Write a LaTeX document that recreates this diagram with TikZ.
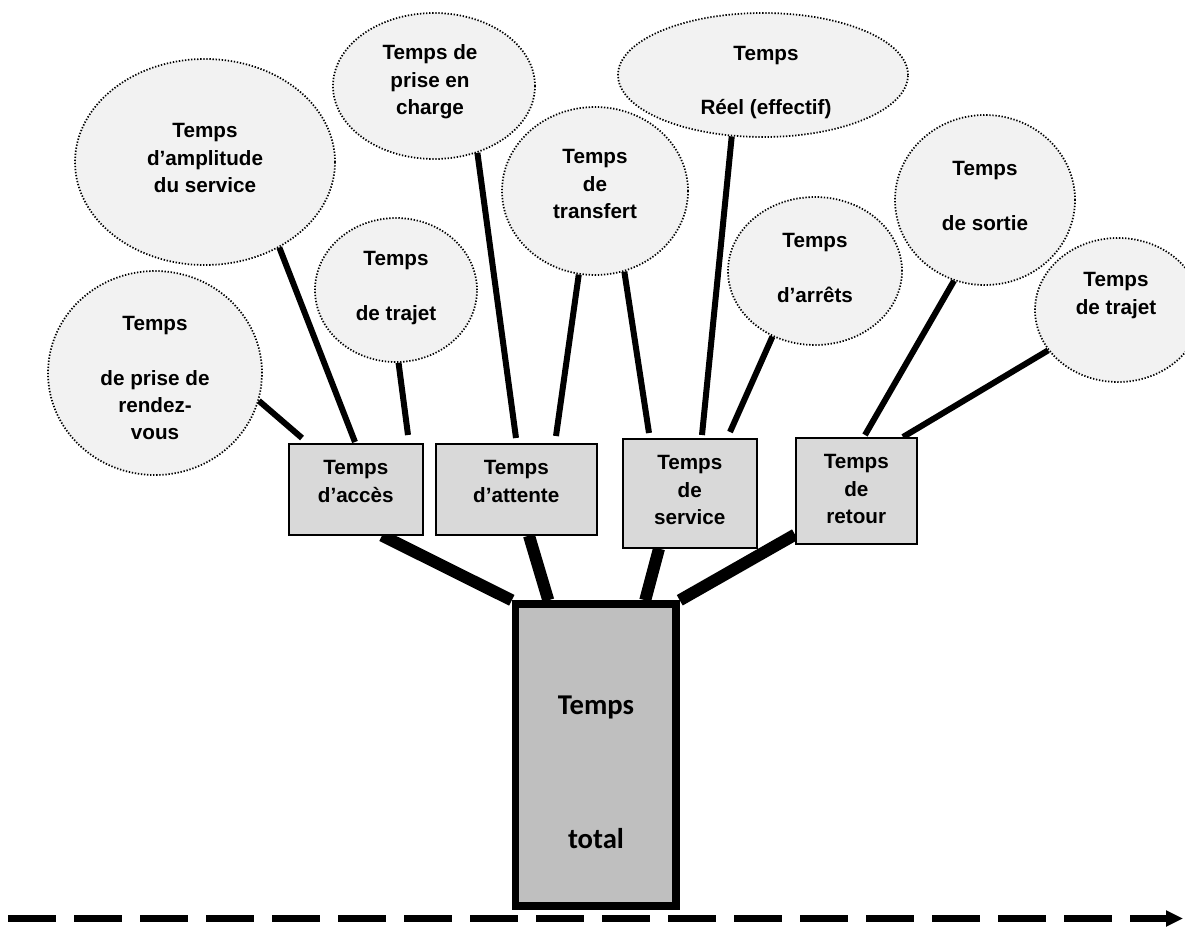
\documentclass[tikz,border=0pt]{standalone}
\usepackage{fontspec}
\setmainfont{Liberation Sans}
\newfontfamily\trunkfont{Carlito}
\usetikzlibrary{shapes.geometric,arrows.meta,backgrounds}
\definecolor{bubblefill}{HTML}{F2F2F2}
\definecolor{boxfill}{HTML}{D9D9D9}
\definecolor{trunkfill}{HTML}{BFBFBF}
\begin{document}
\begin{tikzpicture}[x=0.75pt,y=-0.75pt,
  bubble/.style={ellipse, draw=black, fill=bubblefill, line width=1.3pt,
    dash pattern=on 1pt off 1.3pt, inner sep=0pt},
  bubbletext/.style={inner sep=0pt, align=center,
    font=\bfseries\fontsize{15.5}{20.6}\selectfont},
  timebox/.style={rectangle, draw=black, fill=boxfill, line width=1.2pt,
    anchor=north west, inner xsep=0pt, inner ysep=12.1pt,
    align=center, font=\bfseries\fontsize{15.5}{20.6}\selectfont},
  twoline/.style={text height=31.7pt},
  threeline/.style={text height=52.3pt},
  trunkbox/.style={rectangle, draw=black, fill=trunkfill, line width=5.6pt,
    minimum width=120.4pt, minimum height=226.5pt, inner sep=0pt},
  trunktext/.style={anchor=base, inner sep=0pt,
    font=\trunkfont\bfseries\fontsize{21.5}{26}\selectfont},
  twig/.style={line width=4.5pt},
  limb/.style={line width=9pt},
  timeline/.style={line width=5.2pt, dash pattern=on 36pt off 13.5pt,
    -{Triangle[length=12.75pt,width=11.5pt]}}
]
\useasboundingbox (0,0) rectangle (1185,928);

% leaves: the detailed times (outline, then its text)
\node[bubble, minimum width=160.5pt, minimum height=153pt] (e1) at (155,373) {};
\node[bubbletext] (e1t) at (155,378) {Temps\\[20.6pt]de prise de\\rendez-\\vous};
\node[bubble, minimum width=195pt, minimum height=154.5pt] (e2) at (205,162) {};
\node[bubbletext] (e2t) at (205,158) {Temps\\d’amplitude\\du service};
\node[bubble, minimum width=121.5pt, minimum height=108pt] (e3) at (396,290) {};
\node[bubbletext] (e3t) at (396,288) {Temps\\[20.6pt]de trajet};
\node[bubble, minimum width=151.5pt, minimum height=109.5pt] (e4) at (434,86) {};
\node[bubbletext] (e4t) at (430,82) {Temps de\\prise en\\charge};
\node[bubble, minimum width=139.5pt, minimum height=126pt] (e5) at (595,191) {};
\node[bubbletext] (e5t) at (595,184) {Temps\\de\\transfert};
\node[bubble, minimum width=217.5pt, minimum height=93pt] (e6) at (763,75) {};
\node[bubbletext] (e6t) at (766,82.5) {Temps\\[20.6pt]Réel (effectif)};
\node[bubble, minimum width=130.5pt, minimum height=111pt] (e7) at (815,271) {};
\node[bubbletext] (e7t) at (815,268) {Temps\\[20.6pt]d’arrêts};
\node[bubble, minimum width=135pt, minimum height=127.5pt] (e8) at (985,200) {};
\node[bubbletext] (e8t) at (985,196) {Temps\\[20.6pt]de sortie};
\node[bubble, minimum width=124.5pt, minimum height=108pt] (e9) at (1118,310) {};
\node[bubbletext] (e9t) at (1116,295.5) {Temps\\de trajet};

% branches: the four main times
\node[timebox, twoline, minimum width=100.5pt, text depth=12.35pt] (acc) at (288,443)
  {Temps\\d’accès};
\node[timebox, twoline, minimum width=120.75pt, text depth=12.35pt] (att) at (435,443)
  {Temps\\d’attente};
\node[timebox, threeline, minimum width=100.5pt, text depth=5.25pt] (srv) at (622,438)
  {Temps\\de\\service};
\node[timebox, threeline, minimum width=90.75pt, text depth=3pt] (ret) at (795,437)
  {Temps\\de\\retour};

% trunk: the total time
\node[trunkbox] (trunk) at (595.75,755) {};
\node[trunktext] (tw1) at (596,714) {Temps};
\node[trunktext] (tw2) at (596,848) {total};

% connectors behind the shapes
\begin{pgfonlayer}{background}
  \draw[twig] (e1.-15.5)  -- ([xshift=10.5pt,yshift=3.75pt]acc.north west);
  \draw[twig] (e2.-49.9)  -- ([xshift=50.25pt,yshift=0.75pt]acc.north west);
  \draw[twig] (e3.-88.4)  -- ([xshift=90pt,yshift=6pt]acc.north west);
  \draw[twig] (e4.-57)    -- ([xshift=60.75pt,yshift=3.75pt]att.north west);
  \draw[twig] (e5.-101.7) -- ([xshift=90.75pt,yshift=5.25pt]att.north west);
  \draw[twig] (e5.-70.3)  -- ([xshift=20.25pt,yshift=3.75pt]srv.north west);
  \draw[twig] (e6.-117.2) -- ([xshift=60pt,yshift=2.25pt]srv.north west);
  \draw[twig] (e7.-123.9) -- ([xshift=81pt,yshift=4.5pt]srv.north west);
  \draw[twig] (e8.-111.7) -- ([xshift=52.5pt,yshift=1.5pt]ret.north west);
  \draw[twig] (e9.-150.6) -- ([xshift=81pt]ret.north west);

  \draw[limb] ([xshift=70.5pt]acc.south west) -- (trunk.north west);
  \draw[limb] ([xshift=70.5pt]att.south west) -- ([xshift=27.4pt]trunk.north west);
  \draw[limb] ([xshift=27.75pt]srv.south west) -- ([xshift=100.1pt]trunk.north west);
  \draw[limb] ([yshift=7.5pt]ret.south west) -- (trunk.north east);
\end{pgfonlayer}

% time axis
\coordinate (tstart) at (8,918.5);
\coordinate (tend) at (1183,918.5);
\draw[timeline] (tstart) -- (tend);
\end{tikzpicture}
\end{document}
